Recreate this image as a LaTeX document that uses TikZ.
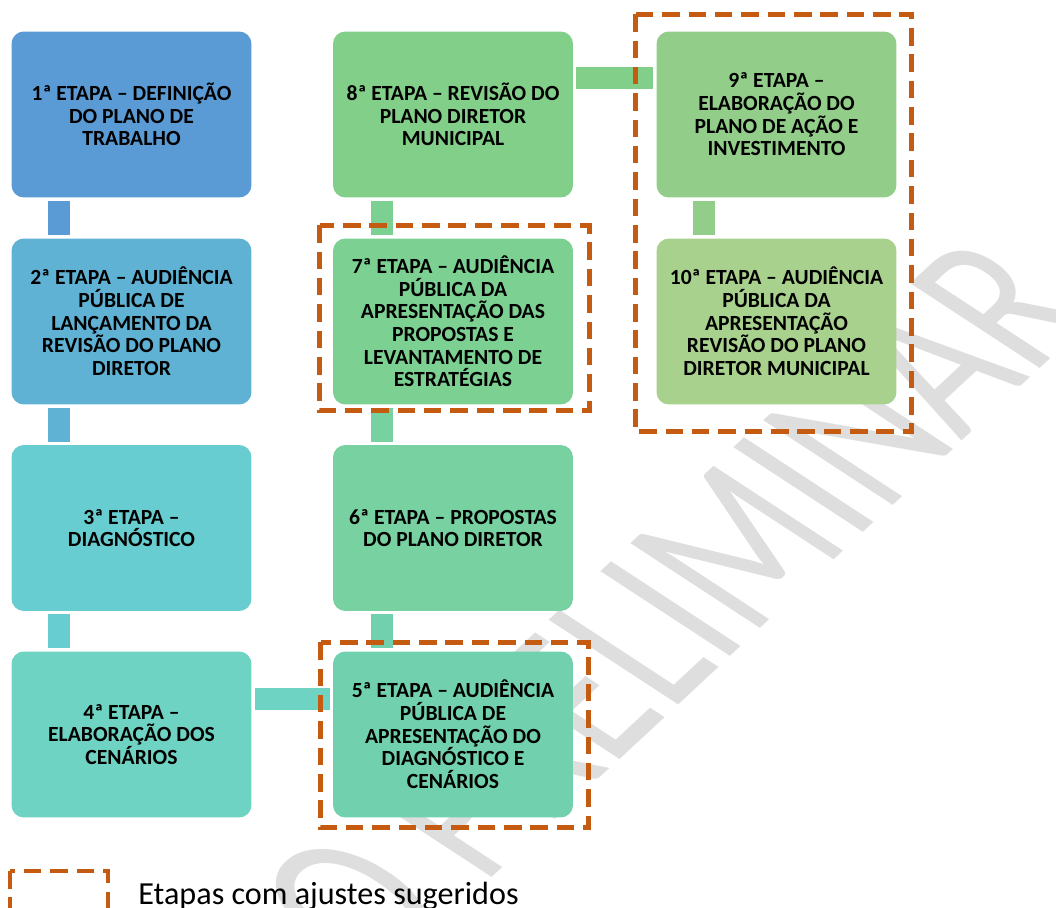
\documentclass[tikz,border=0pt]{standalone}
\usepackage{fontspec}
\setmainfont{Carlito}
\definecolor{etA}{HTML}{5B9BD5}
\definecolor{etB}{HTML}{5FB2D4}
\definecolor{etC}{HTML}{68CDD0}
\definecolor{etD}{HTML}{6ED3C2}
\definecolor{etE}{HTML}{71D1AE}
\definecolor{etF}{HTML}{78D1A0}
\definecolor{etG}{HTML}{7CD092}
\definecolor{etH}{HTML}{82CF8A}
\definecolor{etI}{HTML}{92CE89}
\definecolor{etJ}{HTML}{A9D18E}
\definecolor{laranja}{HTML}{C55A11}

\begin{document}
\begin{tikzpicture}[x=0.02cm,y=-0.02cm,
 etapa/.style={fill=#1,rounded corners=7pt,minimum width=4.8cm,minimum height=3.32cm,
  align=center,inner sep=0pt,font=\bfseries\fontsize{12.3}{12.9}\selectfont},
 liga/.style={draw=#1,line width=0.44cm,shorten <=0.06cm,shorten >=0.06cm},
 ajuste/.style={draw=laranja,line width=2.8pt,dash pattern=on 10pt off 5pt}]
\useasboundingbox (0,0) rectangle (1056,908);
\clip (0,0) rectangle (1056,908);
% marca d'agua
\node[yscale=0.78,rotate=50,xscale=0.71,text=black!13,font=\fontsize{150}{150}\selectfont] (marca) at (672,608) {O PRELIMINAR};
% etapas
\node[etapa=etA] (e1) at (131.5,114.5) {1ª ETAPA – DEFINIÇÃO\\DO PLANO DE\\TRABALHO};
\node[etapa=etB] (e2) at (131.5,321.5) {2ª ETAPA – AUDIÊNCIA\\PÚBLICA DE\\LANÇAMENTO DA\\REVISÃO DO PLANO\\DIRETOR};
\node[etapa=etC] (e3) at (131.5,528) {3ª ETAPA –\\DIAGNÓSTICO};
\node[etapa=etD] (e4) at (131.5,734.5) {4ª ETAPA –\\ELABORAÇÃO DOS\\CENÁRIOS};
\node[etapa=etE] (e5) at (453,734.5) {5ª ETAPA – AUDIÊNCIA\\PÚBLICA DE\\APRESENTAÇÃO DO\\DIAGNÓSTICO E\\CENÁRIOS};
\node[etapa=etF] (e6) at (453,528) {6ª ETAPA – PROPOSTAS\\DO PLANO DIRETOR};
\node[etapa=etG] (e7) at (453,321.5) {7ª ETAPA – AUDIÊNCIA\\PÚBLICA DA\\APRESENTAÇÃO DAS\\PROPOSTAS E\\LEVANTAMENTO DE\\ESTRATÉGIAS};
\node[etapa=etH] (e8) at (453,114.5) {8ª ETAPA – REVISÃO DO\\PLANO DIRETOR\\MUNICIPAL};
\node[etapa=etI] (e9) at (776.5,114.5) {9ª ETAPA –\\ELABORAÇÃO DO\\PLANO DE AÇÃO E\\INVESTIMENTO};
\node[etapa=etJ] (e10) at (776.5,321.5) {10ª ETAPA – AUDIÊNCIA\\PÚBLICA DA\\APRESENTAÇÃO\\REVISÃO DO PLANO\\DIRETOR MUNICIPAL};
% ligacoes
\foreach \a/\b/\c in {e1/e2/etA,e2/e3/etB,e3/e4/etC,e9/e10/etI}
 \draw[liga=\c] ([xshift=0.96cm]\a.south west) -- ([xshift=0.96cm]\b.north west);
\foreach \a/\b/\c in {e5/e6/etE,e6/e7/etF,e7/e8/etG}
 \draw[liga=\c] ([xshift=0.99cm]\a.north west) -- ([xshift=0.99cm]\b.south west);
\draw[liga=etD] ([yshift=-0.95cm]e4.north east) -- ([yshift=-0.95cm]e5.north west);
\draw[liga=etH] ([yshift=-0.93cm]e8.north east) -- ([yshift=-0.93cm]e9.north west);
% etapas com ajustes
\draw[ajuste] ([shift={(-13,-13)}]e7.north west) rectangle ([shift={(16,6)}]e7.south east);
\draw[ajuste] ([shift={(-12,-9)}]e5.north west) rectangle ([shift={(15,10)}]e5.south east);
\draw[ajuste] ([shift={(-21,-17)}]e9.north west) rectangle ([shift={(15,27)}]e10.south east);
% legenda
\draw[ajuste] (10,871) rectangle (108,960);
\node[anchor=base west,inner sep=0pt,font=\fontsize{18.3}{20}\selectfont] (legenda) at (138,905) {Etapas com ajustes sugeridos};
\end{tikzpicture}
\end{document}
